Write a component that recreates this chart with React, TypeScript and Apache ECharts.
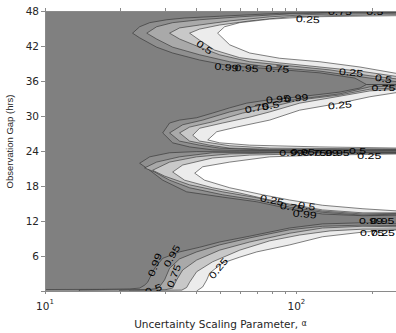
import React, { useEffect, useRef } from "react";
import * as echarts from "echarts";

type Pt = [number, number];
type Contour = { level: number; upper: Pt[]; lower: Pt[] };

// contour levels (outer -> inner)
const contourLevels = [0.99, 0.95, 0.75, 0.5, 0.25];

// axis ranges
const alphaMin = 10;
const alphaMax = 249;
const gapMin = 0;
const gapMax = 48;
const gapInterval = 6;
const xTickValues = [10, 20, 30, 40, 50, 60, 70, 80, 90, 100, 200];
const xLabelValues = [10, 100];

// contour boundaries [alpha, gap]; each tongue of low values
const tongue44: Contour[] = [
  { level: 0.99,
    upper: [[22.3, 44.2], [23.8, 45.3], [26.1, 46.0], [30.5, 46.5], [35.9, 46.8], [49.5, 47.1], [85.8, 47.6], [149, 47.8], [258, 47.8]],
    lower: [[22.3, 44.2], [23.8, 43.4], [27.8, 41.8], [32.2, 40.8], [41.2, 39.6], [54.3, 38.6], [78.3, 38.1], [124, 37.4], [171, 36.5], [190, 35.4], [258, 35.4]] },
  { level: 0.95,
    upper: [[25.4, 44.2], [27.8, 45.3], [32.2, 46.0], [41.2, 46.5], [59.5, 47.0], [94, 47.5], [149, 47.7], [258, 47.75]],
    lower: [[25.4, 44.2], [27.8, 43.2], [32.2, 41.8], [41.2, 40.5], [54.3, 39.3], [78.3, 38.4], [124, 37.7], [196, 36.5], [258, 35.8]] },
  { level: 0.75,
    upper: [[31.3, 44.2], [34.3, 45.1], [41.2, 45.6], [54.3, 46.3], [78.3, 47.0], [113, 47.4], [258, 47.6]],
    lower: [[31.3, 44.2], [34.3, 43.2], [41.2, 41.8], [49.5, 40.5], [65.2, 39.3], [94, 38.6], [136, 37.9], [196, 36.9], [258, 36.3]] },
  { level: 0.5,
    upper: [[37.6, 44.2], [41.2, 44.9], [49.5, 45.6], [65.2, 46.3], [94, 47.0], [136, 47.2], [258, 47.4]],
    lower: [[37.6, 44.2], [41.2, 43.0], [47.3, 41.3], [59.5, 40.0], [85.8, 39.1], [124, 38.4], [179, 37.7], [258, 36.7]] },
  { level: 0.25,
    upper: [[48.6, 44.2], [51.8, 45.3], [59.5, 46.0], [78.3, 46.6], [113, 47.0], [163, 47.1], [258, 47.2]],
    lower: [[48.6, 44.2], [54.3, 42.2], [65.2, 40.8], [85.8, 39.9], [124, 39.3], [179, 38.4], [258, 37.2]] },
];

const tongue29: Contour[] = [
  { level: 0.99,
    upper: [[29.4, 27.1], [31.3, 28.8], [34.3, 29.3], [40.1, 29.7], [46.4, 30.5], [54.3, 31.4], [63.4, 32.2], [78.3, 32.8], [103, 33.3], [149, 34.1], [179, 34.8], [190, 35.4], [258, 35.4]],
    lower: [[29.4, 27.1], [32.2, 25.4], [37.6, 24.7], [46.4, 24.2], [59.5, 24.1], [258, 24.1]] },
  { level: 0.95,
    upper: [[31.3, 27.1], [35.3, 28.5], [42.4, 29.3], [54.3, 30.7], [78.3, 32.2], [103, 32.9], [149, 33.8], [196, 35.0], [258, 35.15]],
    lower: [[31.3, 27.1], [34.3, 25.7], [41.2, 25.0], [49.5, 24.5], [71.4, 24.2], [258, 24.2]] },
  { level: 0.75,
    upper: [[34.3, 27.1], [37.6, 28.1], [46.4, 29.0], [61.1, 30.5], [78.3, 31.5], [103, 32.75], [149, 33.6], [196, 34.6], [258, 34.8]],
    lower: [[34.3, 27.1], [37.6, 25.7], [45.2, 25.0], [54.3, 24.5], [78.3, 24.3], [258, 24.3]] },
  { level: 0.5,
    upper: [[38.7, 26.7], [41.2, 27.9], [50.9, 28.8], [65.2, 29.8], [78.3, 30.7], [103, 32.2], [149, 33.4], [196, 34.3], [258, 34.6]],
    lower: [[38.7, 26.7], [41.2, 25.7], [54.3, 24.9], [78.3, 24.5], [258, 24.35]] },
  { level: 0.25,
    upper: [[44.4, 25.9], [48.2, 27.3], [57.8, 28.1], [78.3, 29.3], [103, 31.0], [149, 32.2], [196, 33.3], [258, 34.1]],
    lower: [[44.4, 25.9], [49.5, 25.4], [65.2, 25.0], [124, 24.7], [258, 24.5]] },
];

const tongue20: Contour[] = [
  { level: 0.99,
    upper: [[23.8, 21.9], [26.1, 23.0], [31.3, 23.7], [40.1, 23.9], [59.5, 23.85], [258, 23.85]],
    lower: [[23.8, 21.9], [26.1, 20.7], [29.4, 19.0], [36.6, 17.0], [50.9, 16.1], [69.5, 15.3], [94, 14.1], [127, 13.2], [184, 12.9], [258, 13.0]] },
  { level: 0.95,
    upper: [[24.9, 21.1], [27.8, 22.1], [34.3, 23.0], [46.4, 23.7], [71.4, 23.74], [258, 23.74]],
    lower: [[24.9, 21.1], [27.3, 20.4], [31.3, 19.0], [37.6, 17.7], [50.9, 16.5], [69.5, 15.6], [94, 14.4], [127, 13.5], [184, 13.0], [258, 13.2]] },
  { level: 0.75,
    upper: [[26.8, 20.7], [31.3, 22.1], [40.1, 23.0], [54.3, 23.5], [85.8, 23.66], [258, 23.66]],
    lower: [[26.8, 20.7], [29.9, 19.7], [37.6, 18.2], [50.9, 17.0], [69.5, 16.0], [94, 14.7], [127, 13.7], [184, 13.2], [258, 13.3]] },
  { level: 0.5,
    upper: [[32.2, 20.4], [35.3, 21.6], [46.4, 22.8], [65.2, 23.3], [103, 23.5], [258, 23.57]],
    lower: [[32.2, 20.4], [35.9, 19.0], [46.4, 17.7], [59.5, 16.8], [74.8, 15.8], [94, 14.9], [127, 13.9], [184, 13.4], [258, 13.4]] },
  { level: 0.25,
    upper: [[39.4, 20.2], [42.4, 21.3], [54.3, 22.1], [78.3, 23.0], [124, 23.3], [258, 23.49]],
    lower: [[39.4, 20.2], [43.1, 19.0], [54.3, 17.7], [73.4, 16.5], [94, 15.6], [127, 14.7], [184, 14.1], [258, 13.7]] },
];

const tongue0: Contour[] = [
  { level: 0.99,
    upper: [[10, 0.25], [16.5, 0.28], [21.7, 0.35], [23.8, 0.5], [24.9, 1.0], [25.6, 1.5], [27.3, 3.9], [29.4, 5.6], [34.3, 6.7], [41.2, 7.5], [49.5, 8.4], [65.2, 9.4], [94, 10.8], [127, 11.5], [184, 11.7], [258, 11.5]],
    lower: [[10, -1], [258, -1]] },
  { level: 0.95,
    upper: [[13.7, 0.15], [26.1, 0.25], [28.3, 0.5], [29.9, 1.9], [31.3, 3.9], [34.3, 5.5], [40.1, 6.7], [49.5, 7.9], [65.2, 9.1], [94, 10.5], [127, 11.1], [184, 11.3], [258, 11.2]],
    lower: [[13.7, -1], [258, -1]] },
  { level: 0.75,
    upper: [[19.8, 0.1], [30.0, 0.2], [32.2, 0.5], [33.4, 1.9], [35.3, 3.6], [40.1, 5.3], [49.5, 7.0], [65.2, 8.4], [94, 9.9], [127, 10.8], [184, 11.1], [258, 11.0]],
    lower: [[19.8, -1], [258, -1]] },
  { level: 0.5,
    upper: [[21.7, 0.07], [35.0, 0.15], [36.6, 0.6], [37.6, 1.5], [40.1, 3.3], [46.4, 5.0], [59.5, 7.0], [78.3, 8.6], [103, 9.6], [136, 10.3], [184, 10.6], [258, 10.6]],
    lower: [[21.7, -1], [258, -1]] },
  { level: 0.25,
    upper: [[39.5, -1], [40.1, 0], [42.4, 0.7], [44.0, 1.9], [45.2, 3.1], [50.9, 4.8], [59.5, 5.8], [69.5, 6.7], [94, 7.9], [127, 9.3], [184, 10.1], [258, 10.5]],
    lower: [[39.5, -1], [258, -1]] },
];

const tongues = [tongue44, tongue29, tongue20, tongue0];

// contour labels
const labelTexts = [
  "0.5", "0.99", "0.95", "0.75", "0.25", "0.25", "0.75", "0.5", "0.5", "0.75",
  "0.75", "0.5", "0.95", "0.99", "0.25",
  "0.99", "0.95", "0.75", "0.99", "0.95", "0.5", "0.25",
  "0.25", "0.75", "0.5", "0.99",
  "0.99", "0.95", "0.75", "0.25",
  "0.25", "0.99", "0.95", "0.75", "0.5",
];
const labelAlpha = [
  43.1, 52.7, 63.4, 84, 165, 111, 149, 205, 222, 222,
  69.5, 79, 84.5, 100, 149,
  95.5, 106, 118, 132, 146, 175, 195,
  80, 96, 110, 108,
  198, 220, 200, 221,
  48.9, 27.3, 31.9, 32.5, 27,
];
const labelGap = [
  41.8, 38.4, 38.2, 38.1, 37.5, 46.6, 47.9, 47.9, 36.4, 34.8,
  31.4, 31.8, 32.9, 33.1, 31.9,
  23.8, 23.9, 23.8, 23.7, 23.8, 24.0, 23.2,
  15.6, 14.4, 14.6, 13.2,
  12.0, 12.0, 10.1, 10.1,
  3.9, 4.5, 6.0, 2.6, 0.3,
];
// label rotation in degrees (style)
const labelRotation = [
  -35, -5, -3, -3, -5, -3, 0, 0, -10, 0,
  10, 10, 5, 5, 5,
  0, 0, 0, 0, 0, 0, 0,
  -12, -8, -8, -5,
  0, 0, 0, 0,
  50, 70, 60, 70, 20,
];

// styles
const baseFill = "#808080";
const bandFill = ["#8f8f8f", "#a9a9a9", "#c8c8c8", "#ececec", "#ffffff"];
const lineColor = "#2e2e2e";
const axisColor = "#8a8a8a";
const textColor = "#262626";

const lx = (v: number) => Math.log10(v);

function renderItem(params: any, api: any) {
  const cs = params.coordSys;
  const toPx = (p: Pt) => api.coord([lx(p[0]), p[1]]);
  const kids: any[] = [
    { type: "rect", shape: { x: cs.x, y: cs.y, width: cs.width, height: cs.height }, style: { fill: baseFill } },
  ];
  contourLevels.forEach((lvl, li) => {
    tongues.forEach((t) => {
      t.forEach((c) => {
        if (c.level !== lvl) return;
        const pts = c.upper.concat(c.lower.slice().reverse()).map(toPx);
        kids.push({
          type: "polygon",
          shape: { points: pts },
          style: { fill: bandFill[li], stroke: lineColor, lineWidth: 0.6 },
        });
      });
    });
  });
  labelTexts.forEach((t, i) => {
    const p = toPx([labelAlpha[i], labelGap[i]]);
    kids.push({
      type: "text",
      x: p[0],
      y: p[1],
      rotation: (labelRotation[i] * Math.PI) / 180,
      scaleX: 1.3,
      style: {
        text: t,
        fill: "#000",
        fontSize: 9.5,
        fontFamily: "Liberation Sans, Arial, sans-serif",
        align: "center",
        verticalAlign: "middle",
        textAlign: "center",
        textVerticalAlign: "middle",
      },
    });
  });
  return {
    type: "group",
    clipPath: { type: "rect", shape: { x: cs.x, y: cs.y, width: cs.width, height: cs.height } },
    children: kids,
  };
}

export default function App() {
  const ref = useRef<HTMLDivElement>(null);
  useEffect(() => {
    if (!ref.current) return;
    const chart = echarts.init(ref.current, undefined, { renderer: "svg" });
    const xCommon = {
      type: "value" as const,
      min: lx(alphaMin),
      max: lx(alphaMax),
      z: 5,
      axisLine: { show: true, onZero: false, lineStyle: { color: axisColor, width: 1 } },
      axisTick: {
        show: true,
        inside: false,
        length: 3,
        customValues: xTickValues.map(lx),
        lineStyle: { color: axisColor },
      },
      splitLine: { show: false },
    };
    chart.setOption({
      animation: false,
      backgroundColor: "#ffffff",
      grid: { left: 45, right: 0, top: 11, bottom: 42, containLabel: false, outerBoundsMode: "none" },
      xAxis: [
        {
          ...xCommon,
          position: "bottom",
          axisLabel: {
            show: true,
            customValues: xLabelValues.map(lx),
            margin: 7,
            formatter: (v: number) => `{b|10}{s|${Math.round(v)}}`,
            rich: {
              b: { fontSize: 10.5, fontFamily: "DejaVu Sans", color: textColor, lineHeight: 16 },
              s: { fontSize: 7, fontFamily: "DejaVu Sans", color: textColor, lineHeight: 8, verticalAlign: "top" },
            },
          },
          name: "{n|Uncertainty Scaling Parameter, }{a|α}",
          nameLocation: "middle",
          nameGap: 27,
          nameTextStyle: {
            rich: {
              n: { fontSize: 10.5, fontFamily: "DejaVu Sans", color: textColor },
              a: { fontSize: 8, fontFamily: "DejaVu Sans", color: textColor },
            },
          },
        },
        {
          ...xCommon,
          position: "top",
          axisLabel: { show: false },
        },
      ],
      yAxis: {
        type: "value",
        min: gapMin,
        max: gapMax,
        interval: gapInterval,
        z: 5,
        axisLine: { show: true, onZero: false, lineStyle: { color: axisColor, width: 1 } },
        axisTick: { show: true, inside: false, length: 4, lineStyle: { color: axisColor } },
        axisLabel: {
          formatter: (v: number) => (v === 0 ? "" : String(v)),
          margin: 6,
          fontSize: 10.5,
          fontFamily: "DejaVu Sans",
          color: textColor,
        },
        splitLine: { show: false },
        name: "Observation Gap (hrs)",
        nameLocation: "middle",
        nameGap: 26,
        nameTextStyle: { fontSize: 9.5, fontFamily: "Liberation Sans", color: textColor, padding: [0, 0, 0, 19] },
      },
      series: [
        {
          type: "custom",
          xAxisIndex: 0,
          yAxisIndex: 0,
          renderItem,
          data: [[1.5, 24]],
          encode: { x: 0, y: 1 },
          silent: true,
          z: 2,
        },
      ],
    });
    return () => chart.dispose();
  }, []);
  return (
    <div
      ref={ref}
      style={{ position: "fixed", left: 0, top: 0, width: 396, height: 333, background: "#fff" }}
    />
  );
}
